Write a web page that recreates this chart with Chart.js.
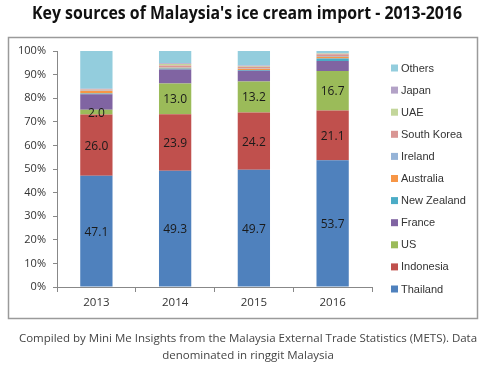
<!DOCTYPE html>
<html><head><meta charset="utf-8">
<script src="https://cdn.jsdelivr.net/npm/chart.js@4/dist/chart.umd.min.js"></script>
<style>html,body{margin:0;padding:0;background:#fff;}#wrap{width:500px;height:373px;position:relative;}</style>
</head><body><div id="wrap"><canvas id="c" width="500" height="373"></canvas></div>
<script>
const categories = ['2013', '2014', '2015', '2016'];
const seriesNames = ['Thailand','Indonesia','US','France','New Zealand','Australia','Ireland','South Korea','UAE','Japan','Others'];
const thailand   = [47.1, 49.3, 49.7, 53.7];
const indonesia  = [26.0, 23.9, 24.2, 21.1];
const us         = [2.0, 13.0, 13.2, 16.7];
const france     = [6.6, 6.0, 4.5, 4.3];
const newZealand = [0.3, 0.4, 0.3, 1.0];
const australia  = [1.2, 0.3, 0.6, 0.8];
const ireland    = [0.2, 0.2, 0.2, 0.3];
const southKorea = [0.3, 0.8, 0.6, 0.7];
const uae        = [0.1, 0.6, 0.3, 0.3];
const japan      = [0.2, 0.3, 0.3, 0.3];
const others     = [16.0, 5.2, 6.1, 0.8];
const yTicks = [0,10,20,30,40,50,60,70,80,90,100];
const labelledSeries = ['Thailand','Indonesia','US'];

const colors = ['#4F81BD','#C0504D','#9BBB59','#8064A2','#4BACC6','#F79646','#95B3D7','#D99694','#C3D69B','#B3A2C7','#93CDDD'];
const values = [thailand, indonesia, us, france, newZealand, australia, ireland, southKorea, uae, japan, others];

const datasets = seriesNames.map((n,i)=>({label:n, data:values[i], backgroundColor:colors[i], borderWidth:0, categoryPercentage:1.0, barPercentage:0.41}));

const decor = {
  id:'decor',
  beforeDraw(chart){
    const ctx = chart.ctx;
    ctx.save();
    ctx.fillStyle='#fff'; ctx.fillRect(0,0,chart.width,chart.height);
    ctx.strokeStyle='#9a9a9a'; ctx.lineWidth=1.5;
    ctx.strokeRect(8.5,37.5,469,281);
    ctx.restore();
  },
  afterDraw(chart){
    const ctx = chart.ctx;
    ctx.save();
    // title
    ctx.fillStyle='#111';
    ctx.font='bold 17px "Open Sans", "DejaVu Sans", sans-serif';
    ctx.textAlign='center'; ctx.textBaseline='alphabetic';
    ctx.fillText("Key sources of Malaysia's ice cream import - 2013-2016", 247, 19, 430);
    // footer
    ctx.fillStyle='#444';
    ctx.font='11.5px "Open Sans", sans-serif';
    ctx.fillText('Compiled by Mini Me Insights from the Malaysia External Trade Statistics (METS). Data', 248, 342, 459);
    ctx.fillText('denominated in ringgit Malaysia', 248, 359, 175);
    // value labels
    ctx.fillStyle='#1a1a1a';
    ctx.font='12px "Open Sans", sans-serif';
    ctx.textBaseline='middle';
    chart.data.datasets.forEach((ds,i)=>{
      if(!labelledSeries.includes(ds.label)) return;
      chart.getDatasetMeta(i).data.forEach((el,j)=>{
        ctx.fillText(ds.data[j].toFixed(1), el.x, (el.y+el.base)/2+1);
      });
    });
    // legend (reverse order)
    ctx.font='11px "Liberation Sans", Arial, sans-serif';
    ctx.textAlign='left';
    const n = chart.data.datasets.length;
    const top = 68, step = 22.1;
    for(let k=0;k<n;k++){
      const ds = chart.data.datasets[n-1-k];
      const y = top + k*step;
      ctx.fillStyle = ds.backgroundColor;
      ctx.fillRect(391, y-3.5, 7, 7);
      ctx.fillStyle = '#333';
      ctx.fillText(ds.label, 401, y+0.5);
    }
    ctx.restore();
  }
};

new Chart(document.getElementById('c'), {
  type:'bar',
  data:{labels:categories, datasets},
  options:{
    responsive:false, animation:false, devicePixelRatio:1,
    layout:{padding:{left:0, top:51, right:128, bottom:56}},
    plugins:{legend:{display:false}, tooltip:{enabled:false}, title:{display:false}},
    scales:{
      x:{stacked:true,
         afterFit(s){ s.height = 30; },
         grid:{display:true, offset:true, drawOnChartArea:false, drawTicks:true, tickLength:5, color:'#888'},
         border:{display:true, color:'#888'},
         ticks:{color:'#333', font:{size:11.5, family:'"Open Sans", sans-serif'}, padding:4}},
      y:{stacked:true, min:0, max:100,
         afterFit(s){ s.width = 57; },
         afterBuildTicks(s){ s.ticks = yTicks.map(v=>({value:v})); },
         grid:{display:true, drawOnChartArea:false, drawTicks:true, tickLength:4, color:'#888'},
         border:{display:true, color:'#888'},
         ticks:{color:'#333', font:{size:11, family:'"Open Sans", sans-serif'}, padding:7, callback:v=>v+'%'}}
    }
  },
  plugins:[decor]
});
</script></body></html>
